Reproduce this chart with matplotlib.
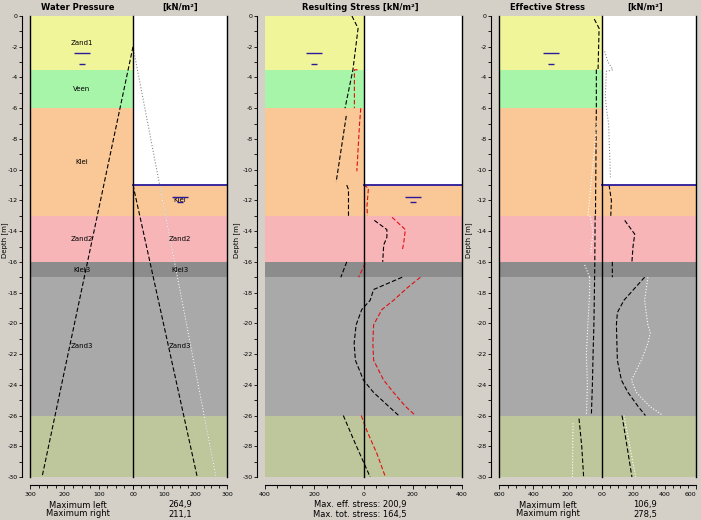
import matplotlib
matplotlib.use('Agg')
import matplotlib.pyplot as plt
from matplotlib.ticker import MultipleLocator
from matplotlib.patches import Rectangle
import numpy as np

nan = np.nan
W, H = 701, 520

# soil profile
layer_names = ['Zand1', 'Veen', 'Klei', 'Zand2', 'Klei3', 'Zand3', '']
layer_top = [0, -3.5, -6, -13, -16, -17, -26]
layer_bot = [-3.5, -6, -13, -16, -17, -26, -30]
layer_colors = ['#f1f59a', '#a6f5a8', '#fac896', '#f8b5b8', '#8c8c8c', '#a9a9a9', '#bec79b']
water_right = -11.0

# groundwater symbols
sym_left_z = [-2.4, -3.1]
sym_right_z = [-11.8, -12.1]

# water pressure [kN/m2]
wp_left_z = [-2, -30]
wp_left = [0, 264.9]
wp_right_z = [-11, -30]
wp_right = [0, 205]

# resulting stress, segments split by nan
rs_eff_z = [0, -0.8, -3.5, -6, nan, -6.5, -10.8, nan, -11, -11.3, -13, nan,
            -13.3, -13.9, -14.4, -14.9, -16, nan, -16, -17, nan,
            -17, -17.8, -18.5, -19.1, -20.1, -21.3, -22.4, -23.7, -24.5, -25.4, -26, nan,
            -26, -27.8, -30]
rs_eff = [-47, -22, -43, -75, nan, -70, -111, nan, -68, -61, -61, nan,
          44, 95, 95, 82, 78, nan, -68, -92, nan,
          157, 41, 27, -7, -30, -38, -33, 0, 41, 102, 143, nan,
          -82, -34, 27]
rs_tot_z = [-3.5, -3.5, -6, nan, -6, -7, -10.1, nan, -11, -11.2, -12.4, -13, nan,
            -13.1, -13.9, -14.8, -15.3, nan, -16.1, -17, nan,
            -17, -17.7, -18.5, -19.1, -20.1, -21.3, -22.4, -23.7, -24.5, -25.4, -26, nan,
            -26, -27, -28.5, -30]
rs_tot = [-24, -37, -37, nan, -11, -16, -27, nan, 0, 20, 14, 16, nan,
          116, 170, 163, 157, nan, 7, -20, nan,
          231, 177, 122, 75, 41, 38, 41, 82, 122, 170, 211, nan,
          -9, 14, 55, 89]

# effective stress, left side
es_l_z = [-0.2, -0.8, -3.5, -3.5, -6, -13, nan, -13, -16, -17, -20, -22, -24, -26, nan, -26.2, -28, -30]
es_l = [45, 17, 23, 33, 33, 38, nan, 40, 42, 43, 47, 52, 56, 62, nan, 134, 118, 107]
es_l2_z = [-7, -13, nan, -13, -14, -15.5, nan, -16.2, -17, nan, -17, -18, -20, -22, -24, -26, nan, -26.5, -30]
es_l2 = [30, 82, nan, 70, 52, 66, nan, 101, 72, nan, 72, 72, 82, 91, 85, 91, nan, 169, 172]
# effective stress, right side
es_r_dry_z = [-2.3, -3, -3.5, -3.6, -5.2, -6, -7, -10.5]
es_r_dry = [17, 38, 70, 28, 21, 28, 42, 54]
es_r_z = [-11, -12, -13, nan, -13.3, -14.2, -15, -16, nan, -16, -17, nan,
          -17, -18.5, -19.3, -20.1, -22.4, -23.7, -24.5, -25.4, -26, nan, -26, -30]
es_r = [45, 60, 56, nan, 145, 209, 198, 191, nan, 66, 66, nan,
        272, 140, 98, 92, 98, 124, 166, 230, 277, nan, 128, 191]
es_r2_z = [-17, -18.5, -19.3, -20.1, -20.6, -21.3, -22.4, -23.7, -24.5, -25.4, -26, nan, -26, -30]
es_r2 = [293, 272, 282, 293, 308, 293, 251, 188, 220, 304, 389, nan, 140, 215]

BG = '#d4d0c8'
WT = '#2a1a9a'
FS = 4.5
dash = (0, (4, 2))

fig = plt.figure(figsize=(W / 100, H / 100), dpi=100, facecolor=BG)


def new_ax(x0, x1, y0=16, y1=477):
    return fig.add_axes([x0 / W, 1 - y1 / H, (x1 - x0) / W, (y1 - y0) / H])


def style(ax, yaxis):
    ax.set_facecolor('white')
    ax.set_ylim(-30, 0)
    for s in ['top', 'right', 'left']:
        ax.spines[s].set_visible(False)
    ax.spines['bottom'].set_position(('outward', 6))
    ax.spines['bottom'].set_linewidth(0.8)
    ax.tick_params(axis='x', which='major', direction='out', length=3, width=0.6, labelsize=FS, pad=1.5)
    ax.tick_params(axis='x', which='minor', direction='out', length=2, width=0.6)
    if yaxis:
        ax.spines['left'].set_visible(True)
        ax.spines['left'].set_position(('outward', 6))
        ax.spines['left'].set_linewidth(0.8)
        yt = list(range(0, -31, -2))
        ax.set_yticks(yt)
        ax.set_yticklabels([str(v) for v in yt])
        ax.yaxis.set_minor_locator(MultipleLocator(1))
        ax.tick_params(axis='y', which='major', direction='out', length=2.5, width=0.6, labelsize=FS, pad=0.5)
        ax.tick_params(axis='y', which='minor', direction='out', length=2, width=0.6)
    else:
        ax.set_yticks([])


def layers(ax, x0=0.0, x1=1.0, wet_only=False):
    for top, bot, c in zip(layer_top, layer_bot, layer_colors):
        if wet_only:
            top = min(top, water_right)
            if top <= bot:
                continue
        ax.axhspan(bot, top, xmin=x0, xmax=x1, color=c, lw=0, zorder=0)


def edge(ax, x):
    ax.axvline(x, color='black', lw=1, clip_on=False, zorder=5)


def water_line(ax, x0, x1):
    ax.plot([x0, x1], [water_right, water_right], color=WT, lw=1.3, zorder=4, clip_on=False)


def symbols(ax, x, zs):
    ax.plot([x], [zs[0]], marker='_', ms=11, mew=1.0, color=WT, zorder=6)
    ax.plot([x], [zs[1]], marker='_', ms=4, mew=1.0, color=WT, zorder=6)


def white_dotted(ax, xs, zs, gray_above=False):
    if gray_above:
        ax.plot(xs, zs, color='#8a8a8a', ls=':', lw=0.8, zorder=3)
        ln, = ax.plot(xs, zs, color='white', ls=':', lw=0.8, zorder=3)
        clip = Rectangle((0, -30), 10000, 30 + water_right, transform=ax.transData)
        ln.set_clip_path(clip)
    else:
        ax.plot(xs, zs, color='white', ls=':', lw=0.8, zorder=3)


def abs_labels(ax, ticks):
    ax.set_xticks(ticks)
    ax.set_xticklabels([str(abs(t)) for t in ticks])


# ---------------- panel 1 : water pressure ----------------
a1l = new_ax(30, 133)
a1r = new_ax(133, 227)
style(a1l, True)
style(a1r, False)
a1l.set_xlim(300, 0)
a1r.set_xlim(0, 300)
layers(a1l)
layers(a1r, wet_only=True)
abs_labels(a1l, [300, 200, 100, 0])
abs_labels(a1r, [0, 100, 200, 300])
a1l.get_xticklabels()[-1].set_ha('right')
a1r.get_xticklabels()[0].set_ha('left')
for a in (a1l, a1r):
    a.xaxis.set_minor_locator(MultipleLocator(25))
edge(a1l, 300)
edge(a1r, 0)
edge(a1r, 300)
water_line(a1r, 0, 300)
a1l.plot(wp_left, wp_left_z, color='black', ls=dash, lw=0.8, zorder=3)
a1r.plot(wp_right, wp_right_z, color='black', ls=dash, lw=0.8, zorder=3)
white_dotted(a1r, wp_left, wp_left_z, gray_above=True)
for name, top, bot in zip(layer_names, layer_top, layer_bot):
    if name:
        a1l.text(150, (top + bot) / 2, name, fontsize=5, ha='center', va='center', zorder=6)
        if bot < water_right:
            zc = (min(top, water_right) + bot) / 2
            a1r.text(150, zc, name, fontsize=5, ha='center', va='center', zorder=6)
symbols(a1l, 150, sym_left_z)
symbols(a1r, 150, sym_right_z)

# ---------------- panel 2 : resulting stress ----------------
a2 = new_ax(265, 462)
style(a2, True)
a2.set_xlim(-400, 400)
layers(a2, 0, 0.5)
layers(a2, 0.5, 1, wet_only=True)
abs_labels(a2, [-400, -200, 0, 200, 400])
a2.xaxis.set_minor_locator(MultipleLocator(50))
edge(a2, 0)
edge(a2, 400)
water_line(a2, 0, 400)
a2.plot(rs_eff, rs_eff_z, color='black', ls=dash, lw=0.8, zorder=3)
a2.plot(rs_tot, rs_tot_z, color='#e01010', ls=dash, lw=0.8, zorder=3)
symbols(a2, -200, sym_left_z)
symbols(a2, 200, sym_right_z)

# ---------------- panel 3 : effective stress ----------------
a3l = new_ax(499, 602)
a3r = new_ax(602, 696)
style(a3l, True)
style(a3r, False)
a3l.set_xlim(600, 0)
a3r.set_xlim(0, 600)
layers(a3l)
layers(a3r, wet_only=True)
abs_labels(a3l, [600, 400, 200, 0])
abs_labels(a3r, [0, 200, 400, 600])
a3l.get_xticklabels()[-1].set_ha('right')
a3r.get_xticklabels()[0].set_ha('left')
a3r.get_xticklabels()[-1].set_ha('right')
for a in (a3l, a3r):
    a.xaxis.set_minor_locator(MultipleLocator(50))
edge(a3l, 600)
edge(a3r, 0)
edge(a3r, 600)
water_line(a3r, 0, 600)
a3l.plot(es_l, es_l_z, color='black', ls=dash, lw=0.8, zorder=3)
white_dotted(a3l, es_l2, es_l2_z)
a3r.plot(es_r_dry, es_r_dry_z, color='#8a8a8a', ls=':', lw=0.8, zorder=3)
a3r.plot(es_r, es_r_z, color='black', ls=dash, lw=0.8, zorder=3)
white_dotted(a3r, es_r2, es_r2_z)
symbols(a3l, 300, sym_left_z)

# ---------------- texts ----------------
tk = dict(fontsize=6, fontweight='bold', ha='center', va='center')
fig.text(78 / W, 1 - 7 / H, 'Water Pressure', **tk)
fig.text(180 / W, 1 - 7 / H, '[kN/m²]', **tk)
fig.text(360 / W, 1 - 7 / H, 'Resulting Stress [kN/m²]', **tk)
fig.text(547 / W, 1 - 7 / H, 'Effective Stress', **tk)
fig.text(645 / W, 1 - 7 / H, '[kN/m²]', **tk)

for xd in (5, 237, 469):
    fig.text(xd / W, 1 - 240 / H, 'Depth [m]', fontsize=5, rotation=90, ha='center', va='center')

bt = dict(fontsize=6, ha='center', va='center')
fig.text(78 / W, 1 - 505 / H, 'Maximum left', **bt)
fig.text(78 / W, 1 - 514 / H, 'Maximum right', **bt)
fig.text(180 / W, 1 - 505 / H, '264,9', **bt)
fig.text(180 / W, 1 - 514 / H, '211,1', **bt)
fig.text(360 / W, 1 - 505 / H, 'Max. eff. stress: 200,9', **bt)
fig.text(360 / W, 1 - 514 / H, 'Max. tot. stress: 164,5', **bt)
fig.text(548 / W, 1 - 505 / H, 'Maximum left', **bt)
fig.text(548 / W, 1 - 514 / H, 'Maximum right', **bt)
fig.text(645 / W, 1 - 505 / H, '106,9', **bt)
fig.text(645 / W, 1 - 514 / H, '278,5', **bt)

fig.savefig('out.png', dpi=100, facecolor=BG)
